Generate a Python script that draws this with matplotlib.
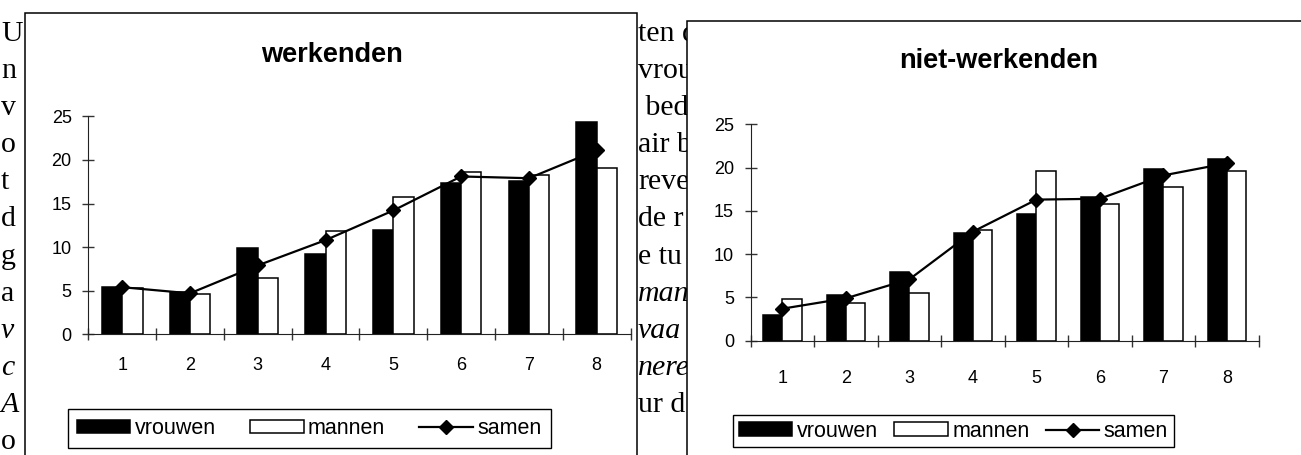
import numpy as np
import matplotlib.pyplot as plt
from matplotlib.patches import Rectangle

# chart data
categories = ['1', '2', '3', '4', '5', '6', '7', '8']
series_names = ['vrouwen', 'mannen', 'samen']
y_ticks = [0, 5, 10, 15, 20, 25]

werk_vrouwen = [5.4, 4.8, 9.9, 9.2, 12.0, 17.3, 17.6, 24.3]
werk_mannen = [5.3, 4.6, 6.5, 11.9, 15.7, 18.6, 18.3, 19.1]
werk_samen = [5.4, 4.7, 7.9, 10.8, 14.2, 18.1, 17.9, 21.1]

niet_vrouwen = [3.0, 5.3, 7.9, 12.4, 14.6, 16.6, 19.8, 21.0]
niet_mannen = [4.8, 4.4, 5.5, 12.8, 19.6, 15.8, 17.8, 19.6]
niet_samen = [3.7, 4.9, 7.1, 12.6, 16.3, 16.4, 19.1, 20.5]

# the pieces of page text that show around the charts
left_column = ['U', 'n', 'v', 'o', 't', 'd', 'g', 'a', 'v', 'c', 'A', 'o']
left_italic = [False] * 8 + [True, True, True, False]
middle_column = ['ten d', 'vrou', ' bed', 'air b', 'reve', 'de r', 'e tu',
                 'man', 'vaa', 'nere', 'ur d']
middle_italic = [False] * 7 + [True, True, True, False]

W, H = 1301, 455
SANS = ['Liberation Sans', 'DejaVu Sans']
SERIF = ['Liberation Serif', 'DejaVu Serif']

plt.rcParams['font.family'] = SANS


def fx(px):
    return px / W


def fy(py):
    return 1 - py / H


fig = plt.figure(figsize=(W / 100, H / 100), dpi=100)
fig.patch.set_facecolor('white')

# page text underneath the pasted charts
for i, (s, it) in enumerate(zip(left_column, left_italic)):
    fig.text(fx(1), fy(41 + 37.1 * i), s, family=SERIF, size=21.5,
             style='italic' if it else 'normal', va='baseline', zorder=1)
for i, (s, it) in enumerate(zip(middle_column, middle_italic)):
    fig.text(fx(638), fy(41 + 37.1 * i), s, family=SERIF, size=21.5,
             style='italic' if it else 'normal', va='baseline', zorder=1)


def draw_panel(box, ax_px, title, title_xy, vrouwen, mannen, samen,
               label_pad, legend_px, legend_pad):
    """One pasted chart: white frame, bars + line, title, legend"""
    bx0, bx1, by0 = box
    fig.add_artist(Rectangle((fx(bx0), -0.2), fx(bx1) - fx(bx0), fy(by0) + 0.2,
                             transform=fig.transFigure, facecolor='white',
                             edgecolor='black', lw=1.1, zorder=2))

    x0, x1, y0, y25 = ax_px
    ax = fig.add_axes([fx(x0), fy(y0), fx(x1) - fx(x0), (y0 - y25) / H])
    ax.set_zorder(3)
    ax.patch.set_alpha(0)

    x = np.arange(1, len(categories) + 1)
    b1 = ax.bar(x - 0.15, vrouwen, 0.3, color='black', edgecolor='black', lw=1.1)
    b2 = ax.bar(x + 0.15, mannen, 0.3, color='white', edgecolor='black', lw=1.1)
    l1, = ax.plot(x, samen, color='black', lw=1.6, marker='D', ms=7)

    ax.set_xlim(0.5, len(categories) + 0.5)
    ax.set_ylim(0, 25)
    ax.set_yticks(y_ticks)
    ax.set_xticks(np.arange(0.5, len(categories) + 1, 1))
    ax.set_xticklabels([])
    ax.set_xticks(x, minor=True)
    ax.set_xticklabels(categories, minor=True)
    ax.tick_params(axis='x', which='major', direction='inout', length=8.5,
                   width=1, color='#333333')
    ax.tick_params(axis='x', which='minor', length=0, pad=label_pad, labelsize=13)
    ax.tick_params(axis='y', direction='inout', length=8.5, width=1,
                   color='#333333', pad=7.7, labelsize=13)
    for side in ['top', 'right']:
        ax.spines[side].set_visible(False)
    for side in ['left', 'bottom']:
        ax.spines[side].set_color('#222222')

    fig.text(fx(title_xy[0]), fy(title_xy[1]), title, ha='center',
             va='baseline', size=19.5, weight='bold', zorder=4)

    lx0, lx1, ly0, ly1 = legend_px
    leg = ax.legend([b1, b2, l1], series_names, ncol=3, mode='expand',
                    loc='center', bbox_to_anchor=(fx(lx0), fy(ly1),
                                                  fx(lx1) - fx(lx0), (ly1 - ly0) / H),
                    bbox_transform=fig.transFigure, borderaxespad=0,
                    borderpad=legend_pad, handlelength=2.5, handleheight=0.6,
                    handletextpad=0.2, fancybox=False, edgecolor='black',
                    framealpha=1, fontsize=15.5)
    leg.get_frame().set_linewidth(1.0)
    return ax


draw_panel((25, 637, 12.7), (88.3, 630.6, 334.3, 116.3), 'werkenden', (332, 61.7),
           werk_vrouwen, werk_mannen, werk_samen, 16.2,
           (67.6, 550.6, 406.7, 450.7), 0.42)
draw_panel((687, 1400, 20.7), (750.7, 1258.7, 340.7, 124.3), 'niet-werkenden',
           (998.5, 68.3), niet_vrouwen, niet_mannen, niet_samen, 21.2,
           (733, 1173.6, 412.7, 450.0), 0.26)

fig.savefig('out.png', dpi=100)
